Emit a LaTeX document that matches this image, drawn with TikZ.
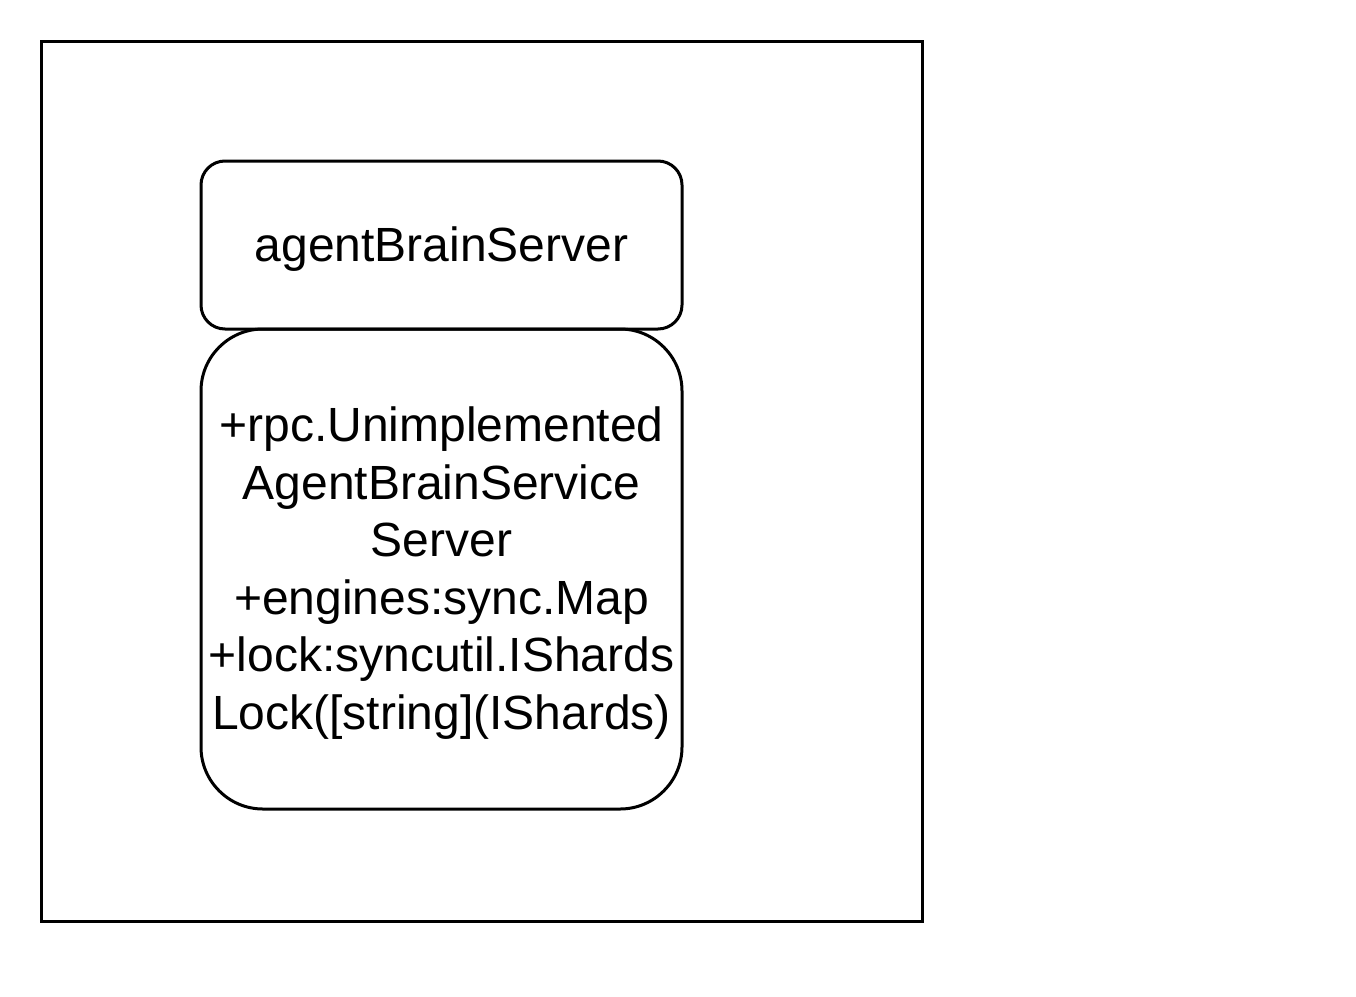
\documentclass[tikz,border=0pt]{standalone}
\usepackage{fontspec}
\setmainfont{Liberation Sans}
\begin{document}
\begin{tikzpicture}[x=1pt,y=-1pt,
  box/.style={draw=black,line width=3pt},
  lbl/.style={font=\fontsize{48}{57.6}\selectfont,align=center,inner sep=0pt}]
\useasboundingbox (0,0) rectangle (1356,996);
\draw[box] (41,41) rectangle (922,921);
\draw[box,rounded corners=24pt] (201,161) rectangle (682,329);
\node[lbl] (title) at (441.5,249) {agentBrainServer};
\draw[box,rounded corners=62pt] (201,329) rectangle (682,809);
\node[lbl] (body) at (441.5,573) {+rpc.Unimplemented\\AgentBrainService\\Server\\+engines:sync.Map\\+lock:syncutil.IShards\\Lock([string](IShards)};
\end{tikzpicture}
\end{document}
